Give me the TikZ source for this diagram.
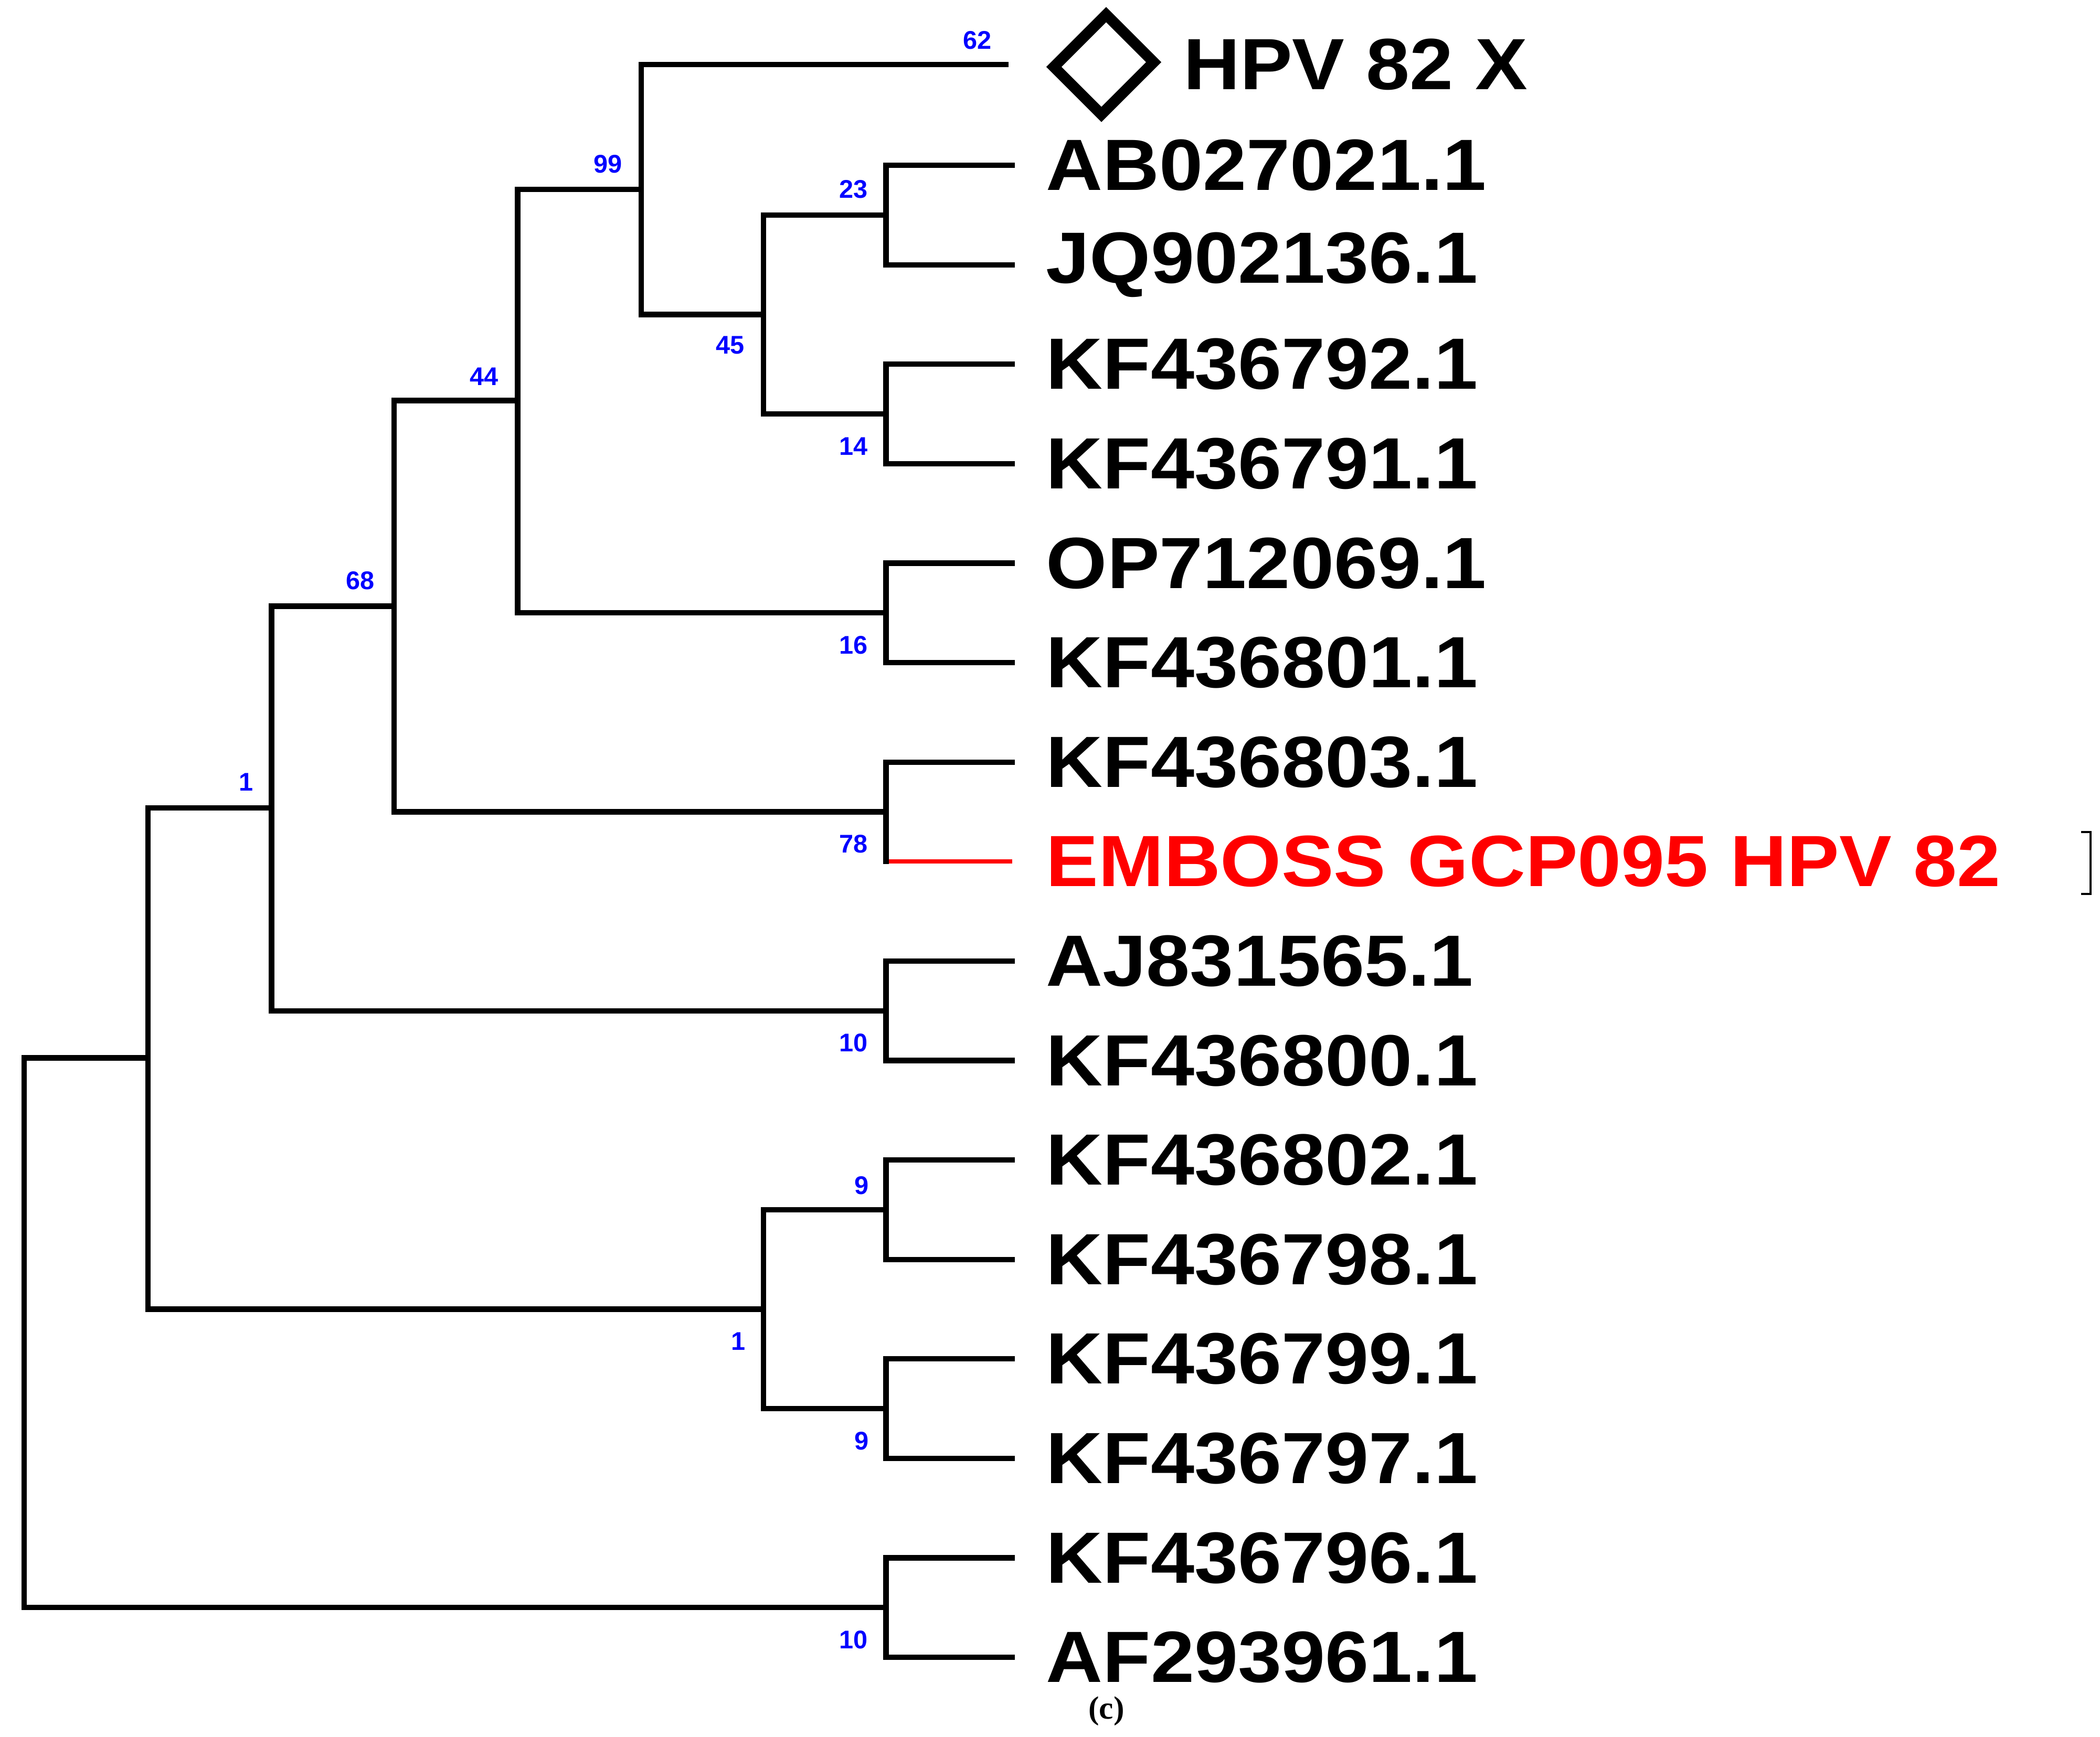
\documentclass[tikz,border=0pt]{standalone}
\usepackage{fontspec}
\setmainfont{Liberation Sans}
\begin{document}
\begin{tikzpicture}[x=1pt,y=-1pt,
  br/.style={line width=4pt,line cap=rect},
  leaf/.style={anchor=west,font=\fontsize{54}{54}\selectfont\bfseries,inner sep=0pt,xscale=1.08},
  bs/.style={font=\fontsize{19}{19}\selectfont\bfseries,text=blue,inner sep=0pt}]
\useasboundingbox (0,0) rectangle (1562,1292);
% leaves
\foreach \y/\t [count=\i] in {123/AB027021.1,197/JQ902136.1,271/KF436792.1,345/KF436791.1,419/OP712069.1,493/KF436801.1,567/KF436803.1,715/AJ831565.1,789/KF436800.1,863/KF436802.1,937/KF436798.1,1011/KF436799.1,1085/KF436797.1,1159/KF436796.1,1233/AF293961.1}
  {\node[leaf] (l\i) at (778,\y) {\t};}
\node[leaf,text=red] (emb) at (778,641) {EMBOSS GCP095 HPV 82};
\node[leaf] (hx) at (880,48) {HPV 82 X};
\node[draw,line width=8pt,minimum size=50pt,rotate=45,inner sep=0pt,xscale=1.1] (dia) at (821,48) {};
% tree
\draw[br] (748,48) -- (477,48) -- (477,234) -- (568,234);
\draw[br] (753,123) -- (659,123) -- (659,197) -- (753,197);
\draw[br] (753,271) -- (659,271) -- (659,345) -- (753,345);
\draw[br] (659,160) -- (568,160) -- (568,308) -- (659,308);
\draw[br] (477,141) -- (385,141) -- (385,456) -- (659,456);
\draw[br] (753,419) -- (659,419) -- (659,493) -- (753,493);
\draw[br] (385,298) -- (293,298) -- (293,604) -- (659,604);
\draw[br] (753,567) -- (659,567) -- (659,641);
\draw[line width=3pt,red] (661,641) -- (753,641);
\draw[br] (293,451) -- (202,451) -- (202,752) -- (659,752);
\draw[br] (753,715) -- (659,715) -- (659,789) -- (753,789);
\draw[br] (202,601) -- (110,601) -- (110,974) -- (568,974);
\draw[br] (753,863) -- (659,863) -- (659,937) -- (753,937);
\draw[br] (753,1011) -- (659,1011) -- (659,1085) -- (753,1085);
\draw[br] (659,900) -- (568,900) -- (568,1048) -- (659,1048);
\draw[br] (110,787) -- (18,787) -- (18,1196) -- (659,1196);
\draw[br] (753,1159) -- (659,1159) -- (659,1233) -- (753,1233);
% bootstrap
\node[bs] (b62) at (727,30) {62};
\node[bs] (b99) at (452,122) {99};
\node[bs] (b23) at (635,141) {23};
\node[bs] (b45) at (543,257) {45};
\node[bs] (b14) at (635,332) {14};
\node[bs] (b44) at (360,280) {44};
\node[bs] (b16) at (635,480) {16};
\node[bs] (b68) at (268,432) {68};
\node[bs] (b78) at (635,628) {78};
\node[bs] (b1a) at (183,582) {1};
\node[bs] (b10a) at (635,776) {10};
\node[bs] (b9a) at (641,882) {9};
\node[bs] (b1b) at (549,998) {1};
\node[bs] (b9b) at (641,1072) {9};
\node[bs] (b10b) at (635,1220) {10};
\draw[line width=1.5pt] (1548,619) -- (1555,619) -- (1555,665) -- (1548,665);
\node[font=\fontsize{24}{24}\selectfont\bfseries\fontspec{Liberation Serif}] (c) at (823,1273) {(c)};
\end{tikzpicture}
\end{document}
